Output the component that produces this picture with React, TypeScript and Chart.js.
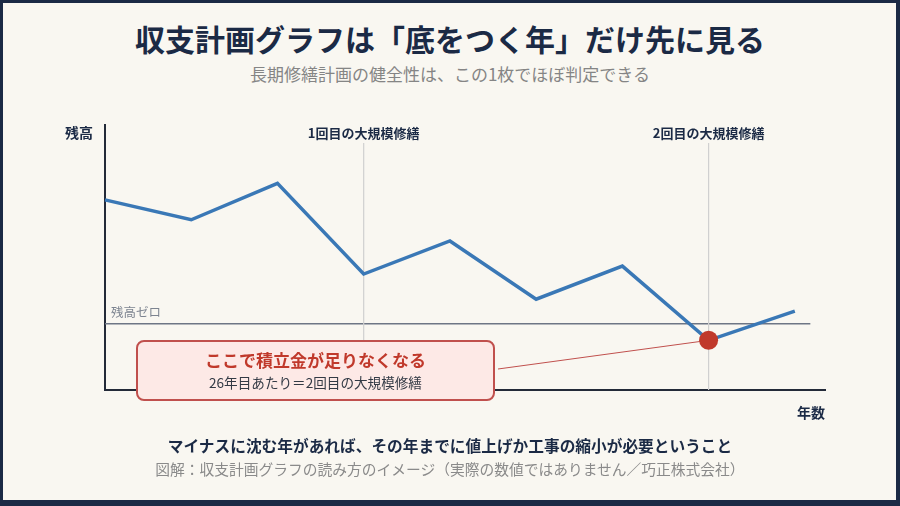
import React, { useEffect, useRef } from "react";
import { Chart, registerables } from "chart.js";

Chart.register(...registerables);

// ---- data ----
const periods = [0, 1, 2, 3, 4, 5, 6, 7, 8];
const balance = [18.7, 15.7, 21.2, 7.5, 12.5, 3.7, 8.7, -2.5, 1.9];
const repairPeriods = [3, 7];
const repairLabels = ["1回目の大規模修繕", "2回目の大規模修繕"];
const shortfallIndex = 7;
const yMin = -10;
const yMax = 30;
const xMax = 8.35;
const zeroLineEnd = 8.18;

const FONT = '"Noto Sans CJK JP", "Noto Sans", sans-serif';
const NAVY = "#1b2a45";

const annotationPlugin = {
  id: "annotations",
  beforeDatasetsDraw(chart: any) {
    const { ctx, scales, chartArea } = chart;
    const x = scales.x;
    const y = scales.y;
    ctx.save();
    // zero line
    const zy = y.getPixelForValue(0);
    ctx.strokeStyle = "#6e7685";
    ctx.lineWidth = 1.5;
    ctx.beginPath();
    ctx.moveTo(chartArea.left, zy);
    ctx.lineTo(x.getPixelForValue(zeroLineEnd), zy);
    ctx.stroke();
    // repair lines
    ctx.strokeStyle = "#d0d0d0";
    ctx.lineWidth = 1.2;
    repairPeriods.forEach((p) => {
      const px = x.getPixelForValue(p);
      ctx.beginPath();
      ctx.moveTo(px, chartArea.top + 18);
      ctx.lineTo(px, chartArea.bottom);
      ctx.stroke();
    });
    // connector line to the shortfall point
    const pt = chart.getDatasetMeta(0).data[shortfallIndex];
    ctx.strokeStyle = "#c0504d";
    ctx.lineWidth = 1;
    ctx.beginPath();
    ctx.moveTo(498, 369);
    ctx.lineTo(pt.x, pt.y);
    ctx.stroke();
    ctx.restore();
  },
  afterDatasetsDraw(chart: any) {
    const { ctx, scales, chartArea } = chart;
    const x = scales.x;
    const y = scales.y;
    ctx.save();
    ctx.textBaseline = "middle";
    // repair labels
    ctx.fillStyle = NAVY;
    ctx.font = `bold 13px ${FONT}`;
    ctx.textAlign = "center";
    repairPeriods.forEach((p, i) => {
      ctx.fillText(repairLabels[i], x.getPixelForValue(p), chartArea.top + 8);
    });
    // axis names
    ctx.font = `bold 14px ${FONT}`;
    ctx.textAlign = "right";
    ctx.fillText("残高", chartArea.left - 12, chartArea.top + 8);
    ctx.fillText("年数", chartArea.right, chartArea.bottom + 23);
    // zero label
    ctx.font = `12.5px ${FONT}`;
    ctx.fillStyle = "#7d8490";
    ctx.textAlign = "left";
    ctx.fillText("残高ゼロ", chartArea.left + 6, y.getPixelForValue(0) - 12);
    ctx.restore();
  },
};

export default function App() {
  const canvasRef = useRef<HTMLCanvasElement | null>(null);

  useEffect(() => {
    if (!canvasRef.current) return;
    const chart = new Chart(canvasRef.current, {
      type: "line",
      data: {
        datasets: [
          {
            data: periods.map((p, i) => ({ x: p, y: balance[i] })),
            borderColor: "#3a78b6",
            borderWidth: 3.5,
            tension: 0,
            fill: false,
            pointRadius: periods.map((_, i) => (i === shortfallIndex ? 9.5 : 0)),
            pointHoverRadius: 0,
            pointBackgroundColor: "#c0392b",
            pointBorderWidth: 0,
            borderJoinStyle: "miter",
          },
        ],
      },
      options: {
        responsive: false,
        animation: false,
        events: [],
        clip: false as any,
        layout: { padding: { left: 105, top: 125, right: 75, bottom: 116 } },
        plugins: {
          legend: { display: false },
          tooltip: { enabled: false },
          title: { display: false },
        },
        scales: {
          x: {
            type: "linear",
            min: 0,
            max: xMax,
            ticks: { display: false },
            grid: { display: false, drawTicks: false, tickLength: 0 },
            border: { display: true, color: "#232a38", width: 2 },
          },
          y: {
            type: "linear",
            min: yMin,
            max: yMax,
            ticks: { display: false },
            grid: { display: false, drawTicks: false, tickLength: 0 },
            border: { display: true, color: "#232a38", width: 2 },
          },
        },
      },
      plugins: [annotationPlugin],
    });
    return () => chart.destroy();
  }, []);

  const center: React.CSSProperties = {
    position: "absolute",
    left: 0,
    width: 900,
    textAlign: "center",
    whiteSpace: "nowrap",
    fontFamily: FONT,
    lineHeight: 1,
  };

  return (
    <div style={{ position: "fixed", left: 0, top: 0, width: 900, height: 506, background: NAVY, overflow: "hidden" }}>
      <div style={{ position: "absolute", left: 3, top: 3, width: 893, height: 497, background: "#f9f7f1" }} />
      <div style={{ ...center, top: 23, fontSize: 30, fontWeight: 700, color: NAVY }}>
        収支計画グラフは「底をつく年」だけ先に見る
      </div>
      <div style={{ ...center, top: 65, fontSize: 17, color: "#858585" }}>
        長期修繕計画の健全性は、この1枚でほぼ判定できる
      </div>
      <canvas
        ref={canvasRef}
        width={900}
        height={506}
        style={{ position: "absolute", left: 0, top: 0, width: 900, height: 506 }}
      />
      <div
        style={{
          position: "absolute",
          left: 136,
          top: 340,
          width: 359,
          height: 61,
          boxSizing: "border-box",
          border: "2px solid #c0504d",
          borderRadius: 8,
          background: "#fde9e6",
          fontFamily: FONT,
          textAlign: "center",
          lineHeight: 1,
        }}
      >
        <div style={{ position: "absolute", left: 0, right: 0, top: 9, fontSize: 17, fontWeight: 700, color: "#c0392b" }}>
          ここで積立金が足りなくなる
        </div>
        <div style={{ position: "absolute", left: 0, right: 0, top: 34, fontSize: 13.6, color: "#333a45" }}>
          26年目あたり＝2回目の大規模修繕
        </div>
      </div>
      <div style={{ ...center, top: 438, fontSize: 15.7, fontWeight: 700, color: NAVY }}>
        マイナスに沈む年があれば、その年までに値上げか工事の縮小が必要ということ
      </div>
      <div style={{ ...center, top: 462, fontSize: 14.75, color: "#8a8a8a" }}>
        図解：収支計画グラフの読み方のイメージ（実際の数値ではありません／巧正株式会社）
      </div>
    </div>
  );
}
